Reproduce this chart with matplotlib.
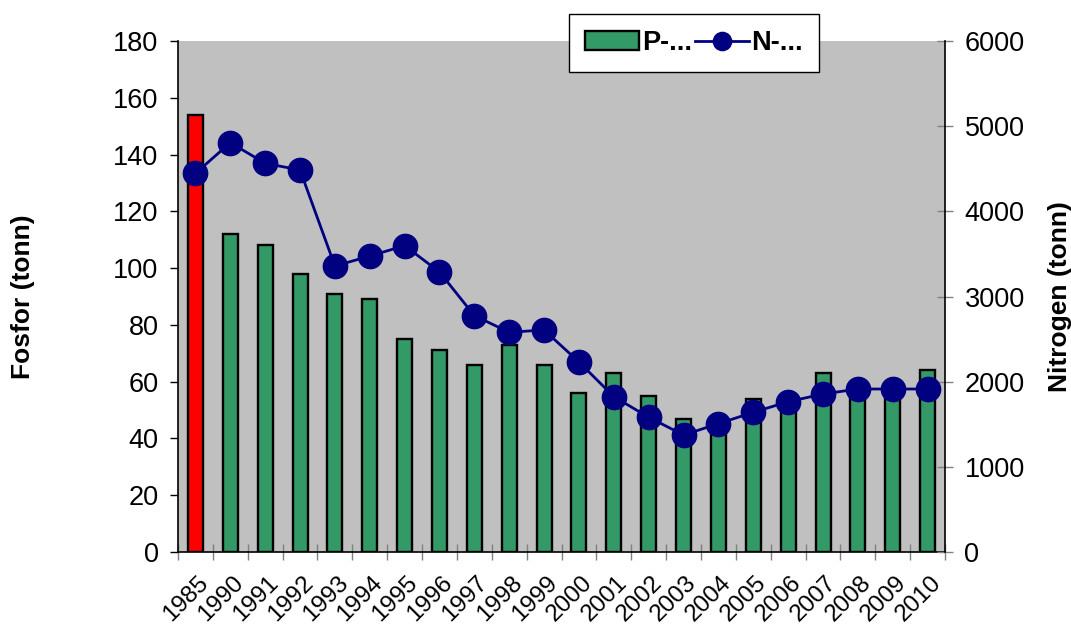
"""
Fosfor og nitrogen per aar, stolper + linje med to y-akser
"""
import numpy as np
import matplotlib
matplotlib.use("Agg")
import matplotlib.pyplot as plt
from matplotlib.patches import Patch
from matplotlib.ticker import FixedLocator
from matplotlib.transforms import ScaledTranslation

plt.rcParams['font.family'] = ['Liberation Sans', 'DejaVu Sans']

#data
years = ['1985', '1990', '1991', '1992', '1993', '1994', '1995', '1996', '1997', '1998', '1999',
         '2000', '2001', '2002', '2003', '2004', '2005', '2006', '2007', '2008', '2009', '2010']
fosfor = [154, 112, 108, 98, 91, 89, 75, 71, 66, 73, 66,
          56, 63, 55, 47, 44, 54, 55, 63, 58, 58, 64]
nitrogen = [4446, 4806, 4564, 4485, 3358, 3475, 3597, 3288, 2775, 2580, 2607,
            2231, 1824, 1582, 1374, 1507, 1640, 1765, 1855, 1914, 1914, 1914]
p_label = 'P-...'
n_label = 'N-...'

green = '#339966'
navy = '#000080'

fig = plt.figure(figsize=(10.71, 6.26), dpi=100)
ax = fig.add_axes([0.1662, 0.1182, 0.7162, 0.8163])
ax.set_facecolor('#C0C0C0')

x = np.arange(len(years))
colors = ['#FF0000'] + [green] * (len(years) - 1)
ax.bar(x, fosfor, width=0.43, color=colors, edgecolor='black', linewidth=1.7, zorder=2)

ax.set_xlim(-0.5, len(years) - 0.5)
ax.set_ylim(0, 180)
ax.set_yticks(np.arange(0, 181, 20))
ax.tick_params(axis='y', labelsize=19.5, direction='out', length=6, width=1, pad=8)
ax.set_ylabel('Fosfor (tonn)', fontsize=19, fontweight='bold', labelpad=56)

#year labels at the bar centres, tick marks between the bars
ax.set_xticks(x)
ax.set_xticklabels(years, rotation=45, ha='right', va='top', rotation_mode='anchor', fontsize=17.5)
ax.tick_params(axis='x', which='major', length=0, pad=14)
shift = ScaledTranslation(2 / 100, 0, fig.dpi_scale_trans)
for lab in ax.get_xticklabels():
    lab.set_transform(lab.get_transform() + shift)
ax.xaxis.set_minor_locator(FixedLocator(np.arange(-0.5, len(years), 1.0)))
ax.tick_params(axis='x', which='minor', direction='inout', length=12, width=1, color='#808080')

ax.spines['top'].set_visible(False)
ax.spines['right'].set_visible(False)
ax.spines['left'].set_linewidth(1.2)
ax.spines['bottom'].set_linewidth(1.2)

ax2 = ax.twinx()
line, = ax2.plot(x, nitrogen, color=navy, linewidth=2.0, marker='o', markersize=17.5,
                 markerfacecolor=navy, markeredgecolor=navy, zorder=3)
ax2.set_ylim(0, 6000)
ax2.set_yticks(np.arange(0, 6001, 1000))
ax2.tick_params(axis='y', labelsize=19.5, direction='inout', length=12, width=1, color='#808080', pad=8)
ax2.set_ylabel('Nitrogen (tonn)', fontsize=19, fontweight='bold', labelpad=17)
ax2.spines['top'].set_visible(False)
ax2.spines['left'].set_visible(False)
ax2.spines['bottom'].set_visible(False)
ax2.spines['right'].set_linewidth(1.2)

#legend uses a green patch, not the red first bar
p_handle = Patch(facecolor=green, edgecolor='black', linewidth=1.7)
leg = fig.legend([p_handle, line], [p_label, n_label], loc='center', bbox_to_anchor=(0.648, 0.931),
                 ncol=2, frameon=True, fancybox=False, edgecolor='black', framealpha=1,
                 prop={'size': 19.5, 'weight': 'bold'}, handlelength=2.0, handletextpad=0.1,
                 columnspacing=0.1, borderpad=0.6, markerscale=0.75)
leg.get_frame().set_linewidth(1.0)

fig.savefig('out.png', dpi=100)
